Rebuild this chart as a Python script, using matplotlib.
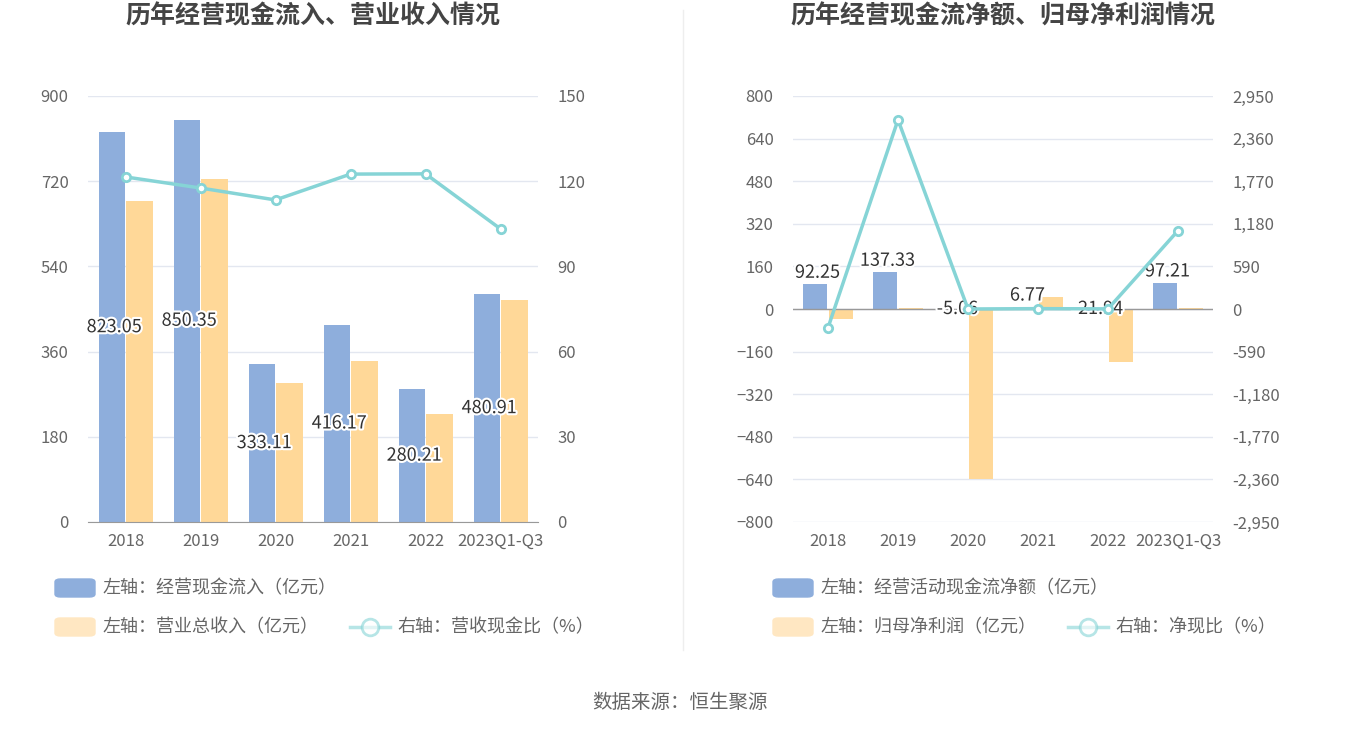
import matplotlib
matplotlib.use("Agg")
import matplotlib.pyplot as plt
import matplotlib.patheffects as pe
from matplotlib.lines import Line2D
from matplotlib.patches import Patch
import numpy as np

plt.rcParams["font.family"] = ["Noto Sans CJK SC"]

years = ["2018", "2019", "2020", "2021", "2022", "2023Q1-Q3"]
cash_in = [823.05, 850.35, 333.11, 416.17, 280.21, 480.91]
revenue = [678, 725, 294, 340, 228, 469]
cash_ratio = [121.5, 117.6, 113.4, 122.5, 122.6, 103.2]

net_cf = [92.25, 137.33, -5.06, 6.77, -21.94, 97.21]
net_profit = [-37, 3, -640, 45, -200, 3]
net_ratio = [-260, 2620, 0, 5, 2, 1085]

BLUE = "#8eaedc"
ORANGE = "#ffd898"
CYAN = "#86d4d6"
GRID = "#e3e7f0"
TXT = "#666666"

fig = plt.figure(figsize=(13.6, 7.34), dpi=100)
W, H = 1360, 734

def box(x0, y0, x1, y1):
    return [x0 / W, 1 - y1 / H, (x1 - x0) / W, (y1 - y0) / H]

def style(ax, ax2):
    for a in (ax, ax2):
        for s in a.spines.values():
            s.set_visible(False)
        a.tick_params(length=0, colors=TXT, labelsize=12)
    ax.spines["bottom"].set_visible(True)
    ax.spines["bottom"].set_color("#999999")
    ax.grid(axis="y", color=GRID, lw=1)
    ax.set_axisbelow(True)

x = np.arange(len(years))
w = 0.35
outline = [pe.withStroke(linewidth=3, foreground="white")]

# Left chart
ax = fig.add_axes(box(88, 96, 538, 522))
ax2 = ax.twinx()
ax.bar(x - w / 2 - 0.01, cash_in, w, color=BLUE)
ax.bar(x + w / 2 + 0.01, revenue, w, color=ORANGE)
ax2.plot(x, cash_ratio, color=CYAN, lw=2.5, marker="o", ms=6, mfc="white", mew=2)
ax.set_ylim(0, 900); ax.set_yticks(range(0, 901, 180))
ax2.set_ylim(0, 150); ax2.set_yticks(range(0, 151, 30))
ax.set_xlim(-0.5, 5.5); ax.set_xticks(x, years)
ax.tick_params(axis="x", pad=8)
ax.tick_params(axis="y", pad=14)
ax2.tick_params(axis="y", pad=14)
style(ax, ax2)
for i, v in enumerate(cash_in):
    ax.text(i - 0.15, v / 2, f"{v:.2f}", ha="center", va="center", fontsize=13,
            color="#333333", path_effects=outline, zorder=5)
ax.set_title("历年经营现金流入、营业收入情况", fontsize=18, fontweight="bold",
             color="#444444", pad=52)

# Right chart
bx = fig.add_axes(box(793, 96, 1213, 522))
bx2 = bx.twinx()
bx.bar(x - w / 2 - 0.01, net_cf, w, color=BLUE)
bx.bar(x + w / 2 + 0.01, net_profit, w, color=ORANGE)
bx2.plot(x, net_ratio, color=CYAN, lw=2.5, marker="o", ms=6, mfc="white", mew=2, zorder=6)
bx.set_ylim(-800, 800); bx.set_yticks(range(-800, 801, 160))
bx2.set_ylim(-2950, 2950); bx2.set_yticks(range(-2950, 2951, 590))
bx2.yaxis.set_major_formatter(matplotlib.ticker.FuncFormatter(lambda v, p: f"{int(v):,}"))
bx.set_xlim(-0.5, 5.5); bx.set_xticks(x, years)
bx.tick_params(axis="x", pad=8)
bx.tick_params(axis="y", pad=14)
bx2.tick_params(axis="y", pad=14)
style(bx, bx2)
bx.spines["bottom"].set_visible(False)
bx.axhline(0, color="#999999", lw=1)
for i, v in enumerate(net_cf):
    bx.text(i - 0.15, max(v, 0) + 10 if v > 0 else 0, f"{v:.2f}", ha="center",
            va="bottom" if v > 0 else "center", fontsize=13, color="#333333",
            path_effects=outline, zorder=5)
bx.set_title("历年经营现金流净额、归母净利润情况", fontsize=18, fontweight="bold",
             color="#444444", pad=52)

# Legends
def leg(xpos, ypos, kind, label):
    if kind == "bar":
        fig.patches.append(matplotlib.patches.FancyBboxPatch(
            (xpos / W, 1 - (ypos + 9) / H), 40 / W, 18 / H,
            boxstyle="round,pad=0,rounding_size=0.004", color=label[1],
            transform=fig.transFigure))
    else:
        fig.add_artist(Line2D([xpos / W, (xpos + 40) / W], [1 - ypos / H] * 2,
                              color=CYAN, lw=2.5, alpha=0.6))
        fig.add_artist(Line2D([(xpos + 20) / W], [1 - ypos / H], marker="o", ms=12,
                              mfc="white", mec=CYAN, mew=2, alpha=0.6))
    fig.text((xpos + 47) / W, 1 - ypos / H, label[0], va="center", fontsize=13, color=TXT)

leg(55, 588, "bar", ("左轴：经营现金流入（亿元）", BLUE))
leg(55, 627, "bar", ("左轴：营业总收入（亿元）", "#ffe7c2"))
leg(350, 627, "line", ("右轴：营收现金比（%）", None))
leg(773, 588, "bar", ("左轴：经营活动现金流净额（亿元）", BLUE))
leg(773, 627, "bar", ("左轴：归母净利润（亿元）", "#ffe7c2"))
leg(1068, 627, "line", ("右轴：净现比（%）", None))

fig.add_artist(Line2D([683 / W] * 2, [1 - 10 / H, 1 - 650 / H], color="#eeeeee", lw=1))
fig.text(0.5, 1 - 703 / H, "数据来源：恒生聚源", ha="center", va="center", fontsize=14, color=TXT)

fig.savefig("out.png", dpi=100, facecolor="white")
